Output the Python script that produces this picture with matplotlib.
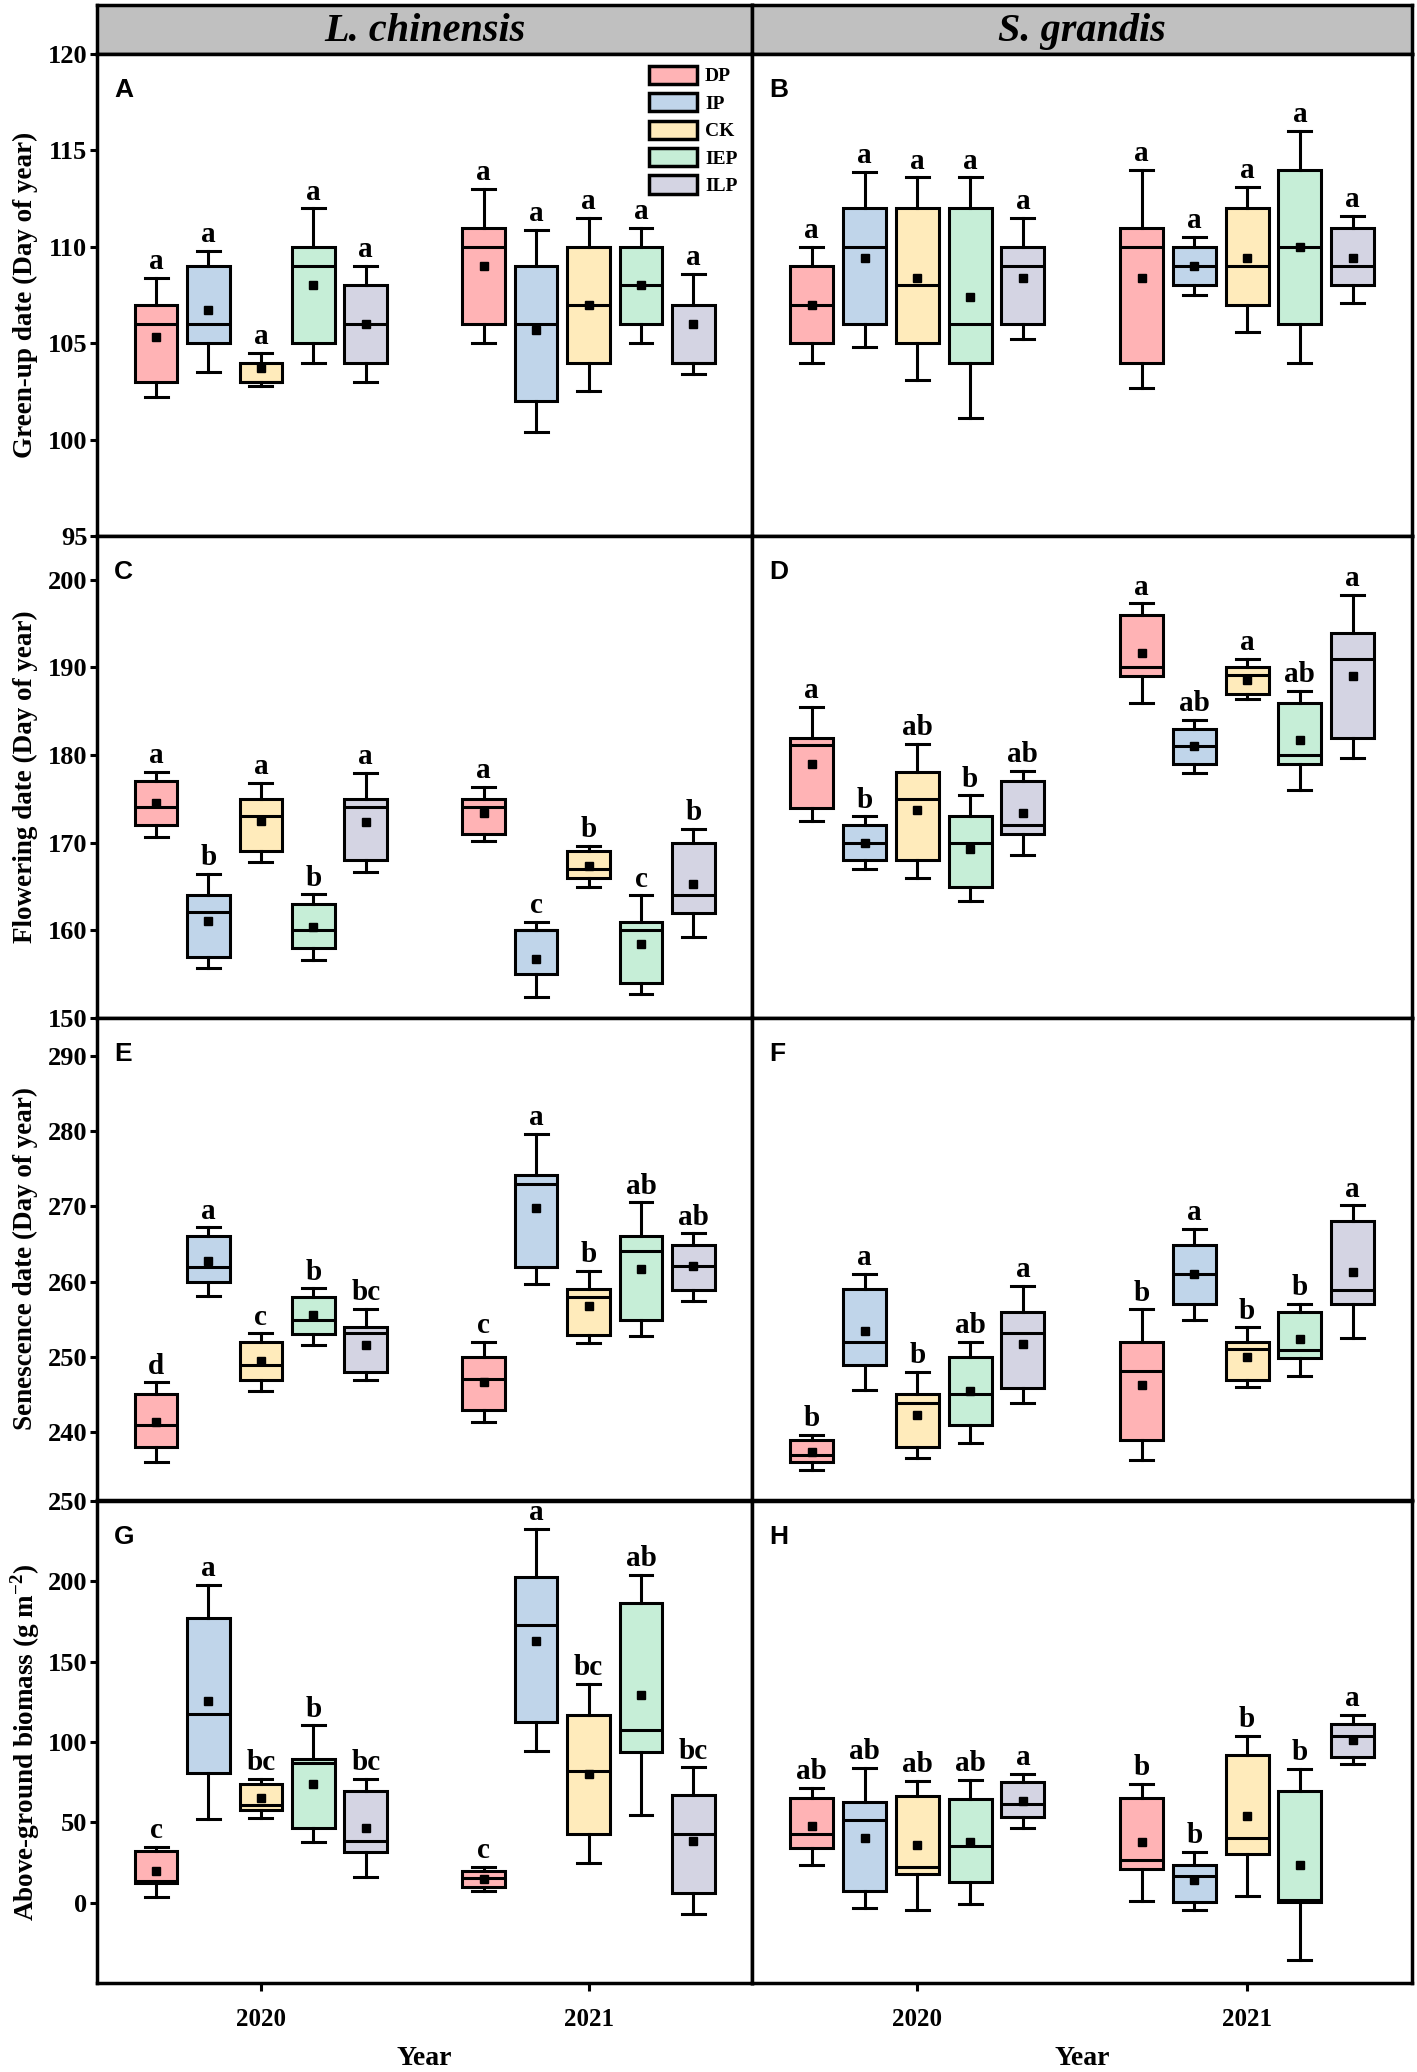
import matplotlib
matplotlib.use('Agg')
import matplotlib.pyplot as plt
from matplotlib.patches import Patch

plt.rcParams['font.family'] = ['Liberation Serif', 'DejaVu Serif']
plt.rcParams['font.weight'] = 'bold'
plt.rcParams['mathtext.fontset'] = 'custom'
plt.rcParams['mathtext.rm'] = 'Liberation Serif:bold'
plt.rcParams['mathtext.bf'] = 'Liberation Serif:bold'

treatments = ['DP', 'IP', 'CK', 'IEP', 'ILP']
colors = ['#FFB3B5', '#C0D5EA', '#FFEBBB', '#C6EED7', '#D4D4E3']
years = ['2020', '2021']
species = ['L. chinensis', 'S. grandis']
ylabels = ['Green-up date (Day of year)', 'Flowering date (Day of year)',
           'Senescence date (Day of year)', r'Above-ground biomass (g m$^{-2}$)']

# each row: whisker low, q1, median, q3, whisker high, mean
# order: 2020 DP, IP, CK, IEP, ILP, then 2021 DP, IP, CK, IEP, ILP
A_stats = [(102.2, 103.0, 106.0, 107.0, 108.4, 105.3),
           (103.5, 105.0, 106.0, 109.0, 109.8, 106.7),
           (102.8, 103.0, 103.0, 104.0, 104.5, 103.7),
           (104.0, 105.0, 109.0, 110.0, 112.0, 108.0),
           (103.0, 104.0, 106.0, 108.0, 109.0, 106.0),
           (105.0, 106.0, 110.0, 111.0, 113.0, 109.0),
           (100.4, 102.0, 106.0, 109.0, 110.9, 105.7),
           (102.5, 104.0, 107.0, 110.0, 111.5, 107.0),
           (105.0, 106.0, 108.0, 110.0, 111.0, 108.0),
           (103.4, 104.0, 104.0, 107.0, 108.6, 106.0)]
A_letters = ['a'] * 10

B_stats = [(104.0, 105.0, 107.0, 109.0, 110.0, 107.0),
           (104.8, 106.0, 110.0, 112.0, 113.9, 109.4),
           (103.1, 105.0, 108.0, 112.0, 113.6, 108.4),
           (101.1, 104.0, 106.0, 112.0, 113.6, 107.4),
           (105.2, 106.0, 109.0, 110.0, 111.5, 108.4),
           (102.7, 104.0, 110.0, 111.0, 114.0, 108.4),
           (107.5, 108.0, 109.0, 110.0, 110.5, 109.0),
           (105.6, 107.0, 109.0, 112.0, 113.1, 109.4),
           (104.0, 106.0, 110.0, 114.0, 116.0, 110.0),
           (107.1, 108.0, 109.0, 111.0, 111.6, 109.4)]
B_letters = ['a'] * 10

C_stats = [(170.6, 172.0, 174.1, 177.0, 178.1, 174.5),
           (155.7, 157.0, 162.1, 164.0, 166.4, 161.1),
           (167.8, 169.0, 173.1, 175.0, 176.8, 172.5),
           (156.6, 158.0, 160.0, 163.0, 164.1, 160.4),
           (166.7, 168.0, 174.1, 175.0, 178.0, 172.4),
           (170.2, 171.0, 174.1, 175.0, 176.4, 173.4),
           (152.4, 155.0, 160.0, 160.0, 161.0, 156.7),
           (165.0, 166.0, 167.0, 169.0, 169.6, 167.4),
           (152.7, 154.0, 160.0, 161.0, 164.0, 158.4),
           (159.2, 162.0, 164.0, 170.0, 171.6, 165.3)]
C_letters = ['a', 'b', 'a', 'b', 'a', 'a', 'c', 'b', 'c', 'b']

D_stats = [(172.5, 174.0, 181.1, 182.0, 185.5, 179.0),
           (167.0, 168.0, 170.0, 172.0, 173.0, 170.0),
           (166.0, 168.0, 175.0, 178.1, 181.3, 173.7),
           (163.3, 165.0, 170.0, 173.0, 175.4, 169.3),
           (168.6, 171.0, 172.0, 177.0, 178.2, 173.4),
           (186.0, 189.0, 190.1, 196.0, 197.3, 191.7),
           (178.0, 179.0, 181.0, 183.0, 184.0, 181.0),
           (186.4, 187.0, 189.1, 190.0, 191.0, 188.6),
           (176.0, 179.0, 180.0, 186.0, 187.3, 181.7),
           (179.7, 182.0, 191.0, 193.9, 198.3, 189.0)]
D_letters = ['a', 'b', 'ab', 'b', 'ab', 'a', 'ab', 'a', 'ab', 'a']

E_stats = [(236.1, 238.0, 241.0, 245.0, 246.6, 241.4),
           (258.1, 259.9, 261.9, 266.0, 267.2, 262.7),
           (245.5, 246.9, 248.9, 252.0, 253.1, 249.5),
           (251.6, 253.0, 254.9, 258.0, 259.1, 255.5),
           (246.9, 248.0, 253.1, 254.0, 256.4, 251.6),
           (241.3, 243.0, 247.0, 250.0, 252.0, 246.6),
           (259.7, 261.9, 273.0, 274.1, 279.6, 269.7),
           (251.9, 252.9, 258.0, 259.0, 261.4, 256.7),
           (252.8, 254.9, 264.0, 266.0, 270.5, 261.7),
           (257.4, 258.9, 262.0, 264.9, 266.4, 262.0)]
E_letters = ['d', 'a', 'c', 'b', 'bc', 'c', 'a', 'b', 'ab', 'ab']

F_stats = [(235.0, 236.0, 237.0, 239.0, 239.6, 237.4),
           (245.6, 248.9, 252.0, 259.0, 261.0, 253.4),
           (236.6, 238.0, 243.9, 245.0, 248.0, 242.3),
           (238.5, 240.9, 245.0, 250.0, 252.0, 245.5),
           (243.9, 245.9, 253.1, 256.0, 259.4, 251.7),
           (236.3, 239.0, 248.1, 252.0, 256.3, 246.3),
           (254.9, 257.0, 261.0, 264.9, 267.0, 261.0),
           (246.0, 246.9, 251.0, 252.0, 253.9, 250.0),
           (247.4, 249.9, 250.9, 255.9, 257.0, 252.4),
           (252.5, 257.0, 258.9, 268.0, 270.1, 261.3)]
F_letters = ['b', 'a', 'b', 'ab', 'a', 'b', 'a', 'b', 'b', 'a']

G_stats = [(3.5, 12.2, 13.5, 31.8, 34.8, 19.6),
           (51.9, 80.5, 117.2, 177.2, 197.8, 125.3),
           (52.4, 57.9, 60.7, 74.1, 77.1, 64.8),
           (37.6, 46.2, 86.8, 89.3, 110.3, 74.1),
           (15.7, 31.4, 38.5, 69.2, 77.1, 46.4),
           (7.2, 9.5, 15.0, 19.8, 22.2, 14.8),
           (94.2, 112.2, 172.9, 202.9, 232.4, 162.9),
           (24.9, 42.7, 81.9, 116.8, 136.2, 79.9),
           (54.5, 93.9, 107.5, 186.7, 204.2, 129.2),
           (-6.9, 6.0, 42.5, 66.7, 84.2, 38.5)]
G_letters = ['c', 'a', 'bc', 'b', 'bc', 'c', 'a', 'bc', 'ab', 'bc']

H_stats = [(23.5, 34.2, 42.9, 65.1, 71.3, 47.5),
           (-3.5, 7.2, 51.2, 62.5, 83.8, 40.4),
           (-4.4, 17.8, 22.4, 66.5, 75.7, 35.8),
           (-0.9, 12.9, 35.5, 64.2, 76.2, 37.6),
           (46.6, 53.3, 61.2, 75.2, 79.9, 63.5),
           (1.2, 20.8, 26.5, 65.3, 73.9, 37.6),
           (-4.8, 0.2, 16.8, 23.1, 31.6, 14.1),
           (4.4, 30.2, 40.4, 91.9, 103.6, 54.2),
           (-35.5, 0.2, 1.4, 69.2, 83.1, 23.5),
           (86.5, 90.9, 103.6, 111.2, 117.0, 101.5)]
H_letters = ['ab', 'ab', 'ab', 'ab', 'a', 'b', 'b', 'b', 'b', 'a']

row_ylims = [(95, 120), (150, 205), (231, 295), (-50, 250)]
row_yticks = [range(95, 121, 5), range(150, 201, 10), range(240, 291, 10), range(0, 251, 50)]

panels = [('A', A_stats, A_letters), ('B', B_stats, B_letters),
          ('C', C_stats, C_letters), ('D', D_stats, D_letters),
          ('E', E_stats, E_letters), ('F', F_stats, F_letters),
          ('G', G_stats, G_letters), ('H', H_stats, H_letters)]

fig = plt.figure(figsize=(14.17, 20.72), dpi=100)

col_left = [0.0685, 0.531]
col_width = [0.4625, 0.4655]
row_bottom = [0.7413, 0.5087, 0.2761, 0.0430]
row_h = 0.2326
offsets = [-0.32, -0.16, 0.0, 0.16, 0.32]
spine_lw = 2.5
box_lw = 2.2

# grey species strips
for c in range(2):
    hax = fig.add_axes([col_left[c], 0.974, col_width[c], 0.0236])
    hax.set_facecolor('#C0C0C0')
    hax.set_xticks([])
    hax.set_yticks([])
    for s in hax.spines.values():
        s.set_linewidth(spine_lw)
    hax.text(0.5, 0.45, species[c], transform=hax.transAxes, ha='center', va='center',
             fontsize=29, fontstyle='italic', fontweight='bold')

for i, (tag, stats, letters) in enumerate(panels):
    r, c = divmod(i, 2)
    ax = fig.add_axes([col_left[c], row_bottom[r], col_width[c], row_h])
    pos = [yr + o for yr in (1, 2) for o in offsets]
    bstats = [dict(whislo=s[0], q1=s[1], med=s[2], q3=s[3], whishi=s[4], mean=s[5], fliers=[])
              for s in stats]
    bp = ax.bxp(bstats, positions=pos, widths=0.13, capwidths=0.07, patch_artist=True,
                showmeans=True, showfliers=False,
                boxprops=dict(linewidth=box_lw, edgecolor='black'),
                medianprops=dict(color='black', linewidth=box_lw),
                whiskerprops=dict(color='black', linewidth=box_lw),
                capprops=dict(color='black', linewidth=box_lw),
                meanprops=dict(marker='s', markerfacecolor='black', markeredgecolor='black',
                               markersize=6))
    for k, patch in enumerate(bp['boxes']):
        patch.set_facecolor(colors[k % 5])
    for k, s in enumerate(stats):
        ax.annotate(letters[k], (pos[k], s[4]), xytext=(0, 2), textcoords='offset points',
                    ha='center', va='bottom', fontsize=21, fontweight='bold')

    ax.set_xlim(0.5, 2.5)
    ax.set_ylim(*row_ylims[r])
    for s in ax.spines.values():
        s.set_linewidth(spine_lw)
    if c == 0:
        ax.set_yticks(list(row_yticks[r]))
        ax.tick_params(axis='y', direction='out', length=5, width=2.2, labelsize=19, pad=2)
        fig.text(0.018, row_bottom[r] + row_h / 2, ylabels[r], rotation=90,
                 ha='center', va='center', fontsize=19.5, fontweight='bold')
    else:
        ax.set_yticks([])
    if r == 3:
        ax.set_xticks([1, 2])
        ax.set_xticklabels(years)
        ax.tick_params(axis='x', direction='out', length=6, width=2.2, labelsize=18, pad=12)
        fig.text(col_left[c] + col_width[c] / 2, 0.0065, 'Year', ha='center', va='center',
                 fontsize=20, fontweight='bold')
    else:
        ax.set_xticks([])

    ax.text(0.026, 0.95, tag, transform=ax.transAxes, ha='left', va='top',
            fontsize=19, fontweight='bold', family='Liberation Sans')

    if tag == 'A':
        handles = [Patch(facecolor=colors[k], edgecolor='black', linewidth=2.5, label=treatments[k])
                   for k in range(5)]
        ax.legend(handles=handles, loc='upper right', bbox_to_anchor=(0.995, 1.0),
                  frameon=False, handlelength=2.5, handleheight=1.05,
                  labelspacing=0.4, handletextpad=0.4, borderaxespad=0.2,
                  prop=dict(family='Liberation Serif', weight='bold', size=14))

fig.savefig('out.png', dpi=100)
